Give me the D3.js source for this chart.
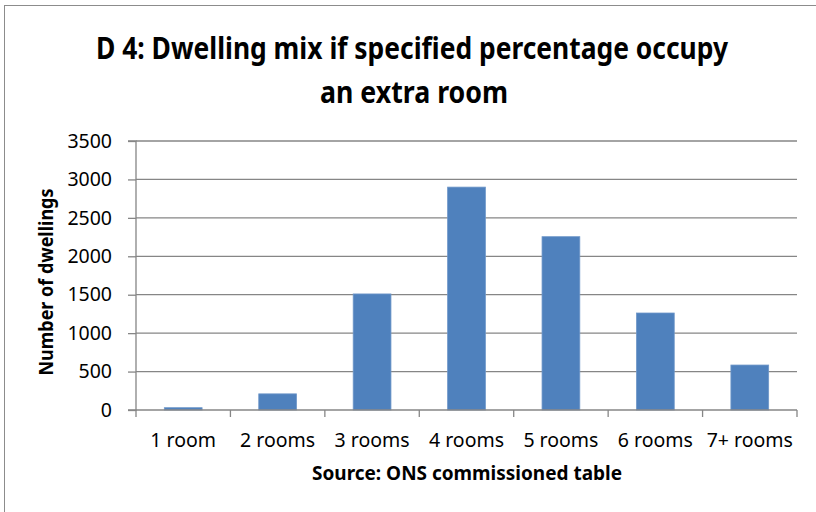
<!DOCTYPE html>
<html><head><meta charset="utf-8">
<script src="https://cdn.jsdelivr.net/npm/d3@7"></script>
<style>
html,body{margin:0;padding:0;background:#fff;}
svg{display:block;}
text{font-family:"Noto Sans","Open Sans",sans-serif;fill:#000;}
</style></head>
<body>
<svg id="chart" width="816" height="512"></svg>
<script>
const categories = ["1 room","2 rooms","3 rooms","4 rooms","5 rooms","6 rooms","7+ rooms"];
const values = [30, 210, 1510, 2900, 2255, 1262, 585];
const yTicks = [0,500,1000,1500,2000,2500,3000,3500];
const titleLines = ["D 4: Dwelling mix if specified percentage occupy","an extra room"];
const yTitle = "Number of dwellings";
const xTitle = "Source: ONS commissioned table";

const svg = d3.select("#chart");
const mLeft = 136, mRight = 797, mTop = 141, mBottom = 410;

// outer chart border
svg.append("rect").attr("x",4.5).attr("y",5.5).attr("width",900).attr("height",600)
  .attr("fill","none").attr("stroke","#8c8c8c").attr("stroke-width",1);

const x = d3.scaleBand().domain(categories).range([mLeft,mRight]).paddingInner(0.6).paddingOuter(0.3);
const y = d3.scaleLinear().domain([0,3500]).range([mBottom,mTop]);

// gridlines
svg.append("g").selectAll("line").data(yTicks.filter(d=>d>0)).join("line")
  .attr("x1",mLeft).attr("x2",mRight).attr("y1",d=>y(d)).attr("y2",d=>y(d))
  .attr("stroke","#868686").attr("stroke-width",1.3);

// bars
svg.append("g").selectAll("rect").data(values).join("rect")
  .attr("x",(d,i)=>x(categories[i])).attr("width",x.bandwidth())
  .attr("y",d=>y(d)).attr("height",d=>y(0)-y(d))
  .attr("fill","#4f81bd").attr("stroke","#6f97c9").attr("stroke-width",0.8);

// y axis
const yAxis = d3.axisLeft(y).tickValues(yTicks).tickSize(8).tickPadding(16).tickFormat(d3.format("d"));
const gy = svg.append("g").attr("transform",`translate(${mLeft},0)`).call(yAxis);
gy.select(".domain").attr("stroke","#868686").attr("stroke-width",1.3).attr("d",`M-8,${mTop}H0V${mBottom}H-8`);
gy.selectAll(".tick line").attr("stroke","#868686").attr("stroke-width",1.3);
gy.selectAll(".tick text").style("font-size","19.5px").style("font-family","'Noto Sans',sans-serif").attr("fill","#000");

// x axis: ticks at category boundaries
const step = x.step();
const boundaries = d3.range(categories.length+1).map(i=>mLeft + i*step);
svg.append("line").attr("x1",mLeft).attr("x2",mRight).attr("y1",mBottom).attr("y2",mBottom)
  .attr("stroke","#868686").attr("stroke-width",1.3);
svg.append("g").selectAll("line").data(boundaries).join("line")
  .attr("x1",d=>d).attr("x2",d=>d).attr("y1",mBottom).attr("y2",mBottom+7)
  .attr("stroke","#868686").attr("stroke-width",1.3);
svg.append("g").selectAll("text").data(categories).join("text")
  .attr("x",d=>x(d)+x.bandwidth()/2).attr("y",447).attr("text-anchor","middle")
  .style("font-size","19.5px").text(d=>d);

// titles
svg.append("text").attr("x",412).attr("y",59).attr("text-anchor","middle")
  .style("font-size","30px").style("font-weight","bold")
  .attr("textLength",632).attr("lengthAdjust","spacingAndGlyphs").text(titleLines[0]);
svg.append("text").attr("x",414).attr("y",103).attr("text-anchor","middle")
  .style("font-size","30px").style("font-weight","bold")
  .attr("textLength",188).attr("lengthAdjust","spacingAndGlyphs").text(titleLines[1]);

svg.append("text").attr("transform","translate(53,282) rotate(-90)").attr("text-anchor","middle")
  .style("font-size","19px").style("font-weight","bold")
  .attr("textLength",187).attr("lengthAdjust","spacingAndGlyphs").text(yTitle);

svg.append("text").attr("x",467).attr("y",480).attr("text-anchor","middle")
  .style("font-size","19px").style("font-weight","bold")
  .attr("textLength",310).attr("lengthAdjust","spacingAndGlyphs").text(xTitle);
</script>
</body></html>
